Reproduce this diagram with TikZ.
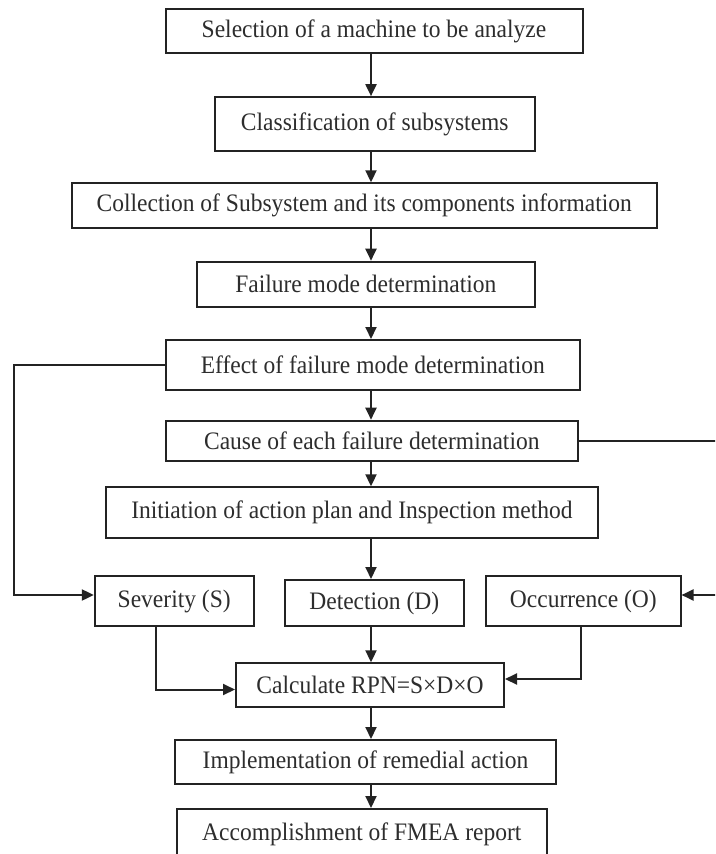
\documentclass[tikz,border=0pt]{standalone}
\usepackage{fontspec}
\usepackage{graphicx}
\setmainfont{Liberation Serif}
\usetikzlibrary{arrows.meta}
\definecolor{inkc}{RGB}{35,35,35}
\definecolor{txtc}{RGB}{45,45,45}
\newcommand{\tallt}[1]{\scalebox{1}[1.07]{#1}}
\begin{document}
\begin{tikzpicture}[x=1pt,y=-1pt,
  box/.style={draw=inkc, line width=2pt, rectangle, inner sep=0pt, align=center, text=txtc, font=\fontsize{23.5}{28}\selectfont},
  arr/.style={draw=inkc, line width=2pt, -{Triangle[length=12pt,width=11pt]}}]
\useasboundingbox (0,0) rectangle (715,854);
\clip (0,0) rectangle (715,854);
\fill[white] (0,0) rectangle (715,854);

\node[box, minimum width=417pt, minimum height=44pt] (b1) at (374,31.3) {\tallt{Selection of a machine to be analyze}};
\node[box, minimum width=319.5pt, minimum height=53.7pt] (b2) at (374.8,124) {\tallt{Classification of subsystems}};
\node[box, minimum width=584.6pt, minimum height=45pt] (b3) at (364.3,205.8) {\tallt{Collection of Subsystem and its components information}};
\node[box, minimum width=337.5pt, minimum height=45pt] (b4) at (365.8,284.2) {\tallt{Failure mode determination}};
\node[box, minimum width=414.5pt, minimum height=50pt] (b5) at (372.8,365) {\tallt{Effect of failure mode determination}};
\node[box, minimum width=412.5pt, minimum height=40pt] (b6) at (371.8,440.7) {\tallt{Cause of each failure determination}};
\node[box, minimum width=492pt, minimum height=51pt] (b7) at (351.9,512.8) {\tallt{Initiation of action plan and Inspection method}};
\node[box, minimum width=158.7pt, minimum height=50pt] (sev) at (174.2,601) {\tallt{Severity (S)}};
\node[box, minimum width=179.5pt, minimum height=46pt] (det) at (374.3,603) {\tallt{Detection (D)}};
\node[box, minimum width=194.5pt, minimum height=50pt] (occ) at (583.3,601) {\tallt{Occurrence (O)}};
\node[box, minimum width=268pt, minimum height=43.4pt] (rpn) at (370,685) {\tallt{Calculate RPN=S×D×O}};
\node[box, minimum width=381pt, minimum height=44pt] (impl) at (365.5,762) {\tallt{Implementation of remedial action}};
\node[box, minimum width=370.3pt, minimum height=50pt] (acc) at (361.8,834) {\tallt{Accomplishment of FMEA report}};

\coordinate (sp) at (371,0);
\coordinate (L) at (14,0);
\coordinate (R) at (735,0);
\coordinate (sx) at (156.4,0);
\coordinate (ox) at (581.4,0);

\draw[arr] (b1.south -| sp) -- (b2.north -| sp);
\draw[arr] (b2.south -| sp) -- (b3.north -| sp);
\draw[arr] (b3.south -| sp) -- (b4.north -| sp);
\draw[arr] (b4.south -| sp) -- (b5.north -| sp);
\draw[arr] (b5.south -| sp) -- (b6.north -| sp);
\draw[arr] (b6.south -| sp) -- (b7.north -| sp);
\draw[arr] (b7.south -| sp) -- (det.north -| sp);
\draw[arr] (det.south -| sp) -- (rpn.north -| sp);
\draw[arr] (rpn.south -| sp) -- (impl.north -| sp);
\draw[arr] (impl.south -| sp) -- (acc.north -| sp);

\draw[arr] (b5.west) -- (b5.west -| L) |- ([yshift=6pt]sev.west);
\draw[arr] (b6.east) -- (b6.east -| R) |- ([yshift=6pt]occ.east);
\draw[arr] (sev.south -| sx) |- ([yshift=-4.5pt]rpn.west);
\draw[arr] (occ.south -| ox) |- ([yshift=6pt]rpn.east);
\end{tikzpicture}
\end{document}
